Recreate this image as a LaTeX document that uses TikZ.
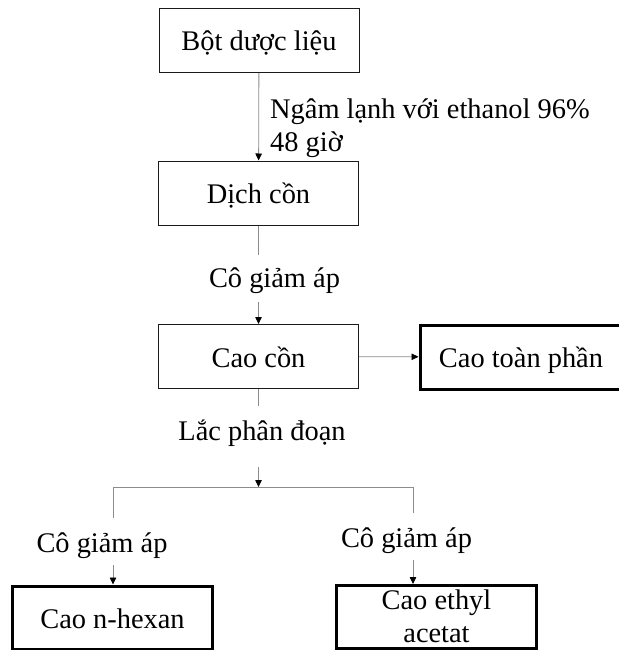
\documentclass[tikz,border=0pt]{standalone}
\usepackage{fontspec}
\setmainfont{Liberation Serif}
\definecolor{ketXam}{HTML}{8C8C8C}
\definecolor{vienDen}{HTML}{1A1A1A}
\usetikzlibrary{
	arrows.meta,
	positioning
}
\tikzset{
	hop/.style={
		draw=vienDen,
		line width=1pt,
		minimum width=200pt,
		minimum height=64pt,
		inner sep=0pt,
		align=center,
		text height=27pt,
		text depth=6pt
	},
	hopDam/.style={
		hop,
		line width=3pt,
		draw=black
	},
	nhan/.style={
		inner sep=0pt,
		anchor=base
	},
	muiTen/.style={
		-{Triangle[length=7pt,width=6.5pt,color=black]},
		ketXam,
		line width=0.8pt
	},
	duongNoi/.style={
		ketXam,
		line width=0.8pt
	}
}
\begin{document}
\begin{tikzpicture}[x=1pt,y=-1pt,font=\fontsize{28.4}{33}\selectfont]
		\useasboundingbox (0,0) rectangle (618,650);
		% cac hop chinh
		\node[hop] (bot) at (259,40.5) {Bột dược liệu};
		\node[hop] (dich) at (258.5,193) {Dịch cồn};
		\node[hop] (caoCon) at (258.5,356.5) {Cao cồn};
		\node[hopDam, minimum width=202pt] (toanPhan) at (521,357) {Cao toàn phần};
		\node[hopDam, minimum height=63pt] (hexan) at (112.5,617.5) {Cao n-hexan};
		\node[hopDam, minimum height=63pt, text height=56pt, text depth=6pt] (ethyl) at (436.5,617) {Cao ethyl\\acetat};
		% nhan
		\node[nhan, anchor=base west, align=left] (ngam) at (270,151) {Ngâm lạnh với ethanol 96\%\\48 giờ};
		\node[nhan] (coGiam) at (274.5,287) {Cô giảm áp};
		\node[nhan] (lac) at (262,440) {Lắc phân đoạn};
		\node[nhan] (coTrai) at (102,552) {Cô giảm áp};
		\node[nhan] (coPhai) at (406.5,547) {Cô giảm áp};
		% diem noi
		\coordinate (c1) at (258.5,255);
		\coordinate (c2) at (258.5,302);
		\coordinate (c3) at (258.5,406);
		\coordinate (c4) at (258.5,467);
		\coordinate (reNhanh) at (258.5,487);
		\coordinate (trai) at (113,487);
		\coordinate (phai) at (413,487);
		\coordinate (traiDuoi) at (113,518);
		\coordinate (phaiDuoi) at (413,513);
		\coordinate (traiMui) at (113,565);
		\coordinate (phaiMui) at (413,560);
		% ket noi
		\draw[muiTen] (bot) -- (dich);
		\draw[duongNoi] (dich) -- (c1);
		\draw[muiTen] (c2) -- (caoCon);
		\draw[muiTen] (caoCon) -- (toanPhan);
		\draw[duongNoi] (caoCon) -- (c3);
		\draw[muiTen] (c4) -- (reNhanh);
		\draw[duongNoi] (traiDuoi) -- (trai) -- (phai) -- (phaiDuoi);
		\draw[muiTen] (traiMui) -- (traiMui |- hexan.north);
		\draw[muiTen] (phaiMui) -- (phaiMui |- ethyl.north);
	\end{tikzpicture}
\end{document}
